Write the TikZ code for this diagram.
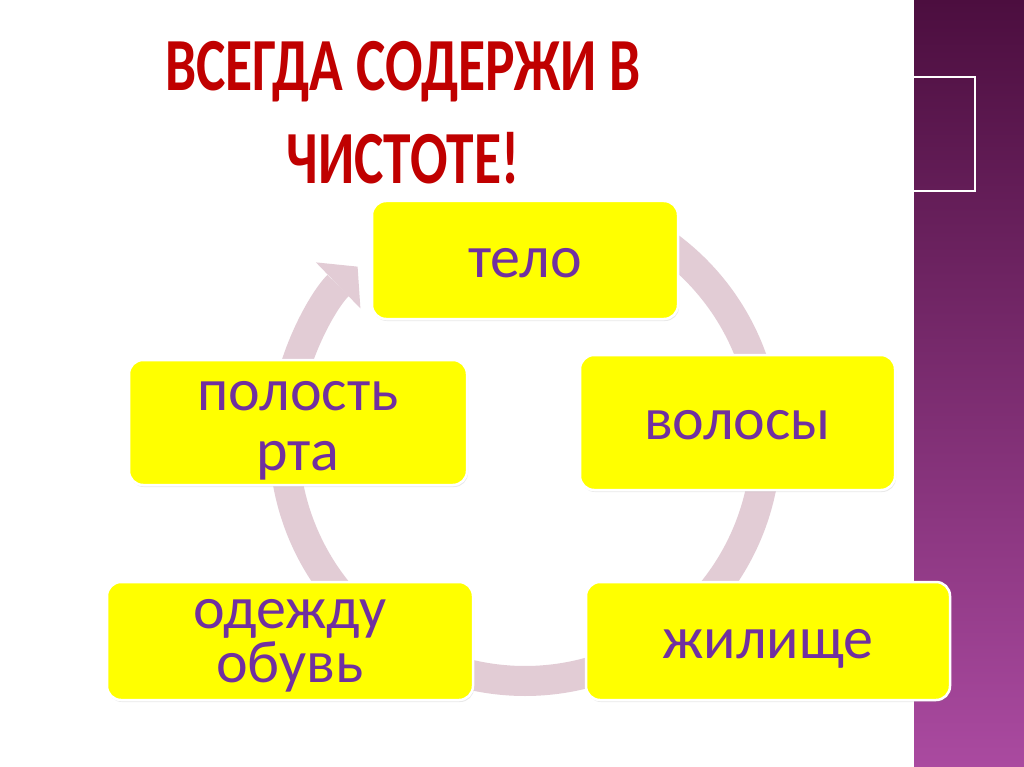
\documentclass[tikz,border=0pt]{standalone}
\usepackage{fontspec}
\setmainfont{Carlito}
\newfontfamily\titlefont[FakeStretch=0.74]{Carlito}
\usetikzlibrary{arrows.meta,shadows}

\definecolor{titlered}{HTML}{C00000}
\definecolor{txtpurple}{HTML}{7030A0}
\definecolor{boxyellow}{HTML}{FFFF00}
\definecolor{ringpink}{HTML}{E2CCD5}
\definecolor{bandtop}{HTML}{4C0E3F}
\definecolor{bandbot}{HTML}{AA4AA0}

\newcommand{\upstrut}[1]{\rule{0pt}{#1}}
\newcommand{\downstrut}[1]{\rule[-#1]{0pt}{#1}}
\newcommand{\tightlines}{\lineskiplimit-100pt\relax}

\begin{document}
\begin{tikzpicture}[x=1pt, y=-1pt, >=Triangle]
        \tikzset{
           item/.style={
                        rectangle,
                        rounded corners=14pt,
                        draw=white,
                        line width=2.5pt,
                        fill=boxyellow,
                        text=txtpurple,
                        inner sep=0pt,
                        align=center,
                        font=\fontsize{60}{60}\selectfont\tightlines,
                        drop shadow={opacity=0.18, shadow xshift=1pt, shadow yshift=-2pt}
                       },
           oneline/.style={
                        text height=46pt,
                        text depth=12pt
                       },
           ring/.style={
                        draw=ringpink,
                        line width=30pt
                       },
                 };
        %----------------
        \useasboundingbox (0,0) rectangle (1024,767);
        \fill[white] (0,0) rectangle (1024,767);
        \shade[top color=bandtop, bottom color=bandbot] (914,0) rectangle (1024,767);
        \draw[white, line width=1.5pt] (900,77) rectangle (975,191);
        %----------------
        \node[text=titlered, font=\titlefont\bfseries\fontsize{75}{93}\selectfont,
              align=center, inner sep=0pt, anchor=north] (title) at (403,41)
              {ВСЕГДА СОДЕРЖИ В\\ЧИСТОТЕ!};
        %----------------
        \coordinate (ring) at (525,440);
        \draw[ring] ([shift={(-58:241)}]ring) arc[start angle=-58, end angle=-16, radius=241];
        \draw[ring] ([shift={(8:241)}]ring) arc[start angle=8, end angle=40, radius=241];
        \draw[ring] ([shift={(68:241)}]ring) arc[start angle=68, end angle=112, radius=241];
        \draw[ring] ([shift={(140:241)}]ring) arc[start angle=140, end angle=192, radius=241];
        \draw[ring, -{Triangle[length=27pt, width=64pt, line width=0pt]}]
              ([shift={(-165:241)}]ring) arc[start angle=-165, end angle=-134, radius=241];
        %----------------
        \node[item, oneline, minimum width=306pt, minimum height=118pt] (telo) at (525,260) {тело};
        \node[item, oneline, minimum width=315pt, minimum height=135pt] (volosy) at (737.5,422.5) {волосы};
        \node[item, oneline, minimum width=364pt, minimum height=118pt] (zhilishche) at (768,641) {жилище};
        \node[item, minimum width=366pt, minimum height=118pt,
              font=\fontsize{60}{54}\selectfont\tightlines] (odezhda) at (290,641)
              {\upstrut{44pt}одежду\\обувь\downstrut{16pt}};
        \node[item, minimum width=338pt, minimum height=125pt] (polost) at (298,422.5)
              {\upstrut{50pt}полость\\рта\downstrut{15pt}};
    \end{tikzpicture}
\end{document}
